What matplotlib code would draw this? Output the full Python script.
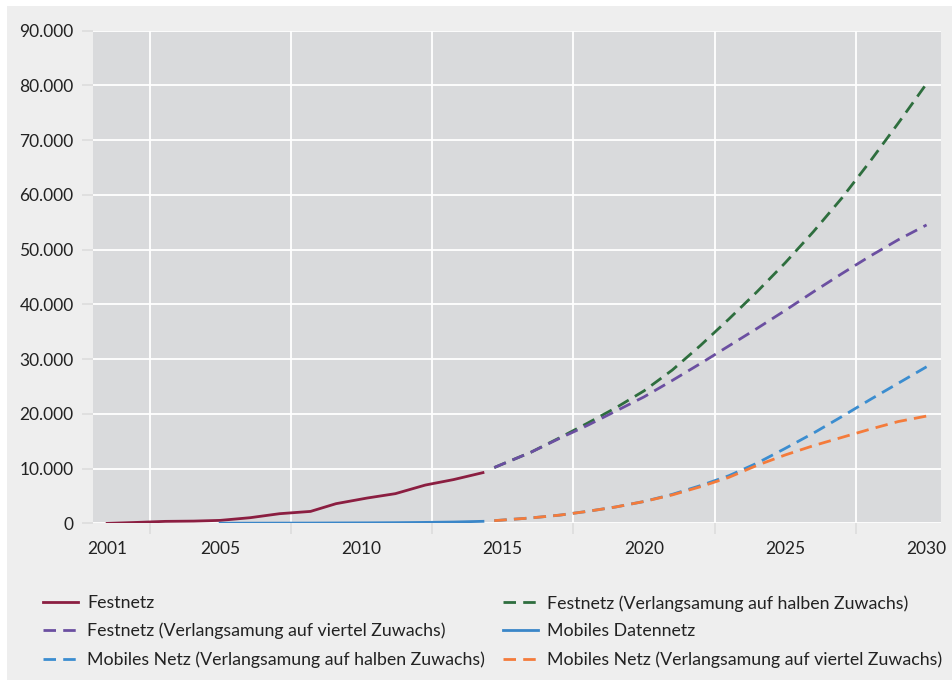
import matplotlib
matplotlib.use("Agg")
import matplotlib.pyplot as plt
from matplotlib.patches import Rectangle
from matplotlib.ticker import FuncFormatter

# historische Werte
hist_years = [2001, 2002.05, 2003.06, 2004.06, 2005, 2006.06, 2007.1, 2008.2,
              2009.1, 2010.2, 2011.2, 2012.26, 2013.26, 2014.3]
festnetz = [0, 180, 370, 420, 550, 1040, 1770, 2190, 3600, 4630, 5430, 7000, 8000, 9270]

mob_years = [2005, 2006.06, 2007.1, 2008.2, 2009.1, 2010.2, 2011.2, 2012.26, 2013.26, 2014.3]
mobil = [30, 40, 50, 60, 80, 100, 130, 180, 250, 380]

# Prognosen
prog_years = [2014.7, 2016, 2017, 2018, 2019, 2020, 2021, 2022, 2023, 2024,
              2025, 2026, 2027, 2028, 2029, 2030]
fest_halb = [10200, 13000, 15600, 18300, 21100, 24200, 28000, 32500, 37300, 42300,
             47600, 53300, 59400, 66100, 73100, 80300]
fest_viertel = [10200, 13000, 15500, 17900, 20500, 23100, 26100, 29200, 32400, 35600,
                38900, 42300, 45600, 48800, 51800, 54500]
mob_halb = [500, 1000, 1500, 2200, 3000, 4000, 5300, 6900, 8700, 11000,
            13700, 16500, 19500, 22600, 25600, 28600]
mob_viertel = [500, 1000, 1500, 2200, 3000, 4000, 5200, 6700, 8400, 10600,
               12500, 14200, 15700, 17200, 18600, 19600]

x_labels = [2001, 2005, 2010, 2015, 2020, 2025, 2030]
x_grid = [2002.5, 2007.5, 2012.5, 2017.5, 2022.5, 2027.5]
y_ticks = list(range(0, 90001, 10000))

plt.rcParams['font.family'] = ['Lato', 'DejaVu Sans']

fig = plt.figure(figsize=(9.53, 6.80), dpi=100)
fig.patch.set_facecolor('white')
fig.patches.append(Rectangle((7 / 953, 0), 1, 1 - 6 / 680, transform=fig.transFigure,
                             facecolor='#eeeeee', edgecolor='none', zorder=-10))

ax = fig.add_axes([0.0976, 0.2303, 0.8895, 0.7248])
ax.set_facecolor('#d9dadc')
for s in ax.spines.values():
    s.set_visible(False)

lw = 2.0
dash = (4.5, 2.6)
l_fest, = ax.plot(hist_years, festnetz, color='#8b1e41', lw=lw, label='Festnetz')
l_mob, = ax.plot(mob_years, mobil, color='#3a86c8', lw=lw, label='Mobiles Datennetz')
l_fh, = ax.plot(prog_years, fest_halb, color='#2e6e3e', lw=lw, dashes=dash,
                label='Festnetz (Verlangsamung auf halben Zuwachs)')
l_fv, = ax.plot(prog_years, fest_viertel, color='#6b4fa1', lw=lw, dashes=dash,
                label='Festnetz (Verlangsamung auf viertel Zuwachs)')
l_mh, = ax.plot(prog_years, mob_halb, color='#3b8dd0', lw=lw, dashes=dash,
                label='Mobiles Netz (Verlangsamung auf halben Zuwachs)')
l_mv, = ax.plot(prog_years, mob_viertel, color='#f47b3b', lw=lw, dashes=dash,
                label='Mobiles Netz (Verlangsamung auf viertel Zuwachs)')

ax.set_xlim(2000.5, 2030.5)
ax.set_ylim(0, 90000)
ax.set_yticks(y_ticks)
ax.yaxis.set_major_formatter(FuncFormatter(lambda v, p: f"{int(v):,}".replace(',', '.')))
ax.set_xticks(x_labels)
ax.set_xticks(x_grid, minor=True)
ax.tick_params(axis='x', which='major', length=0, pad=13, labelsize=12.5, labelcolor='#222222')
ax.tick_params(axis='x', which='minor', length=8, width=1.2, color='#dcdcdc')
ax.tick_params(axis='y', length=8, width=1.2, color='#dcdcdc', pad=6,
               labelsize=12.5, labelcolor='#222222')
ax.grid(axis='y', which='major', color='white', lw=1.3)
ax.grid(axis='x', which='minor', color='white', lw=1.3)
ax.set_axisbelow(True)

leg_kw = dict(frameon=False, fontsize=12.8, handlelength=1.95, handletextpad=0.55,
              labelspacing=0.67, labelcolor='#222222', borderaxespad=0, borderpad=0)
leg1 = fig.legend(handles=[l_fest, l_fv, l_mh], loc='upper left',
                  bbox_to_anchor=(43 / 953, 1 - 595 / 680), **leg_kw)
leg2 = fig.legend(handles=[l_fh, l_mob, l_mv], loc='upper left',
                  bbox_to_anchor=(503 / 953, 1 - 595 / 680), **leg_kw)

fig.savefig('out.png', dpi=100, facecolor=fig.get_facecolor())
